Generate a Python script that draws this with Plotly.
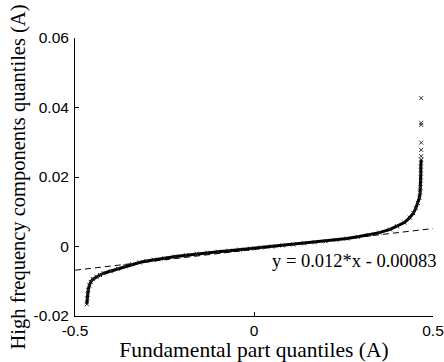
import plotly.graph_objects as go

# Dense part of the Q-Q curve
qx = [-0.467, -0.466, -0.465, -0.463, -0.460, -0.456, -0.450, -0.440, -0.430, -0.420,
      -0.400, -0.380, -0.360, -0.340, -0.320, -0.300, -0.280, -0.250, -0.220, -0.190,
      -0.160, -0.130, -0.100, -0.070, -0.040, -0.010, 0.020, 0.050, 0.080, 0.110,
      0.140, 0.170, 0.200, 0.230, 0.260, 0.290, 0.320, 0.350, 0.380, 0.400,
      0.420, 0.435, 0.445, 0.452, 0.458, 0.462, 0.464, 0.465, 0.466, 0.466,
      0.466, 0.467]
qy = [-0.0166, -0.0150, -0.0138, -0.0125, -0.0112, -0.0102, -0.0094, -0.0087, -0.0082, -0.0077,
      -0.0071, -0.0064, -0.0057, -0.0051, -0.0046, -0.0042, -0.0038, -0.0034, -0.0029, -0.0025,
      -0.0021, -0.0018, -0.0015, -0.0012, -0.0009, -0.0006, -0.0003, 0.0000, 0.0003, 0.0006,
      0.0009, 0.0012, 0.0015, 0.0019, 0.0023, 0.0028, 0.0033, 0.0040, 0.0049, 0.0058,
      0.0069, 0.0083, 0.0096, 0.0110, 0.0125, 0.0140, 0.0155, 0.0170, 0.0190, 0.0210,
      0.0230, 0.0250]
# Sparse upper outliers
ox = [0.467, 0.467, 0.467, 0.467, 0.467, 0.467]
oy = [0.0260, 0.0278, 0.0299, 0.0350, 0.0356, 0.0427]

slope = 0.012
intercept = -0.00083
line_x = [-0.5, 0.5]
line_y = [slope * v + intercept for v in line_x]

x_ticks = [-0.5, 0, 0.5]
x_tick_text = ["-0.5", "0", "0.5"]
y_ticks = [-0.02, 0, 0.02, 0.04, 0.06]
y_tick_text = ["-0.02", "0", "0.02", "0.04", "0.06"]

SERIF = "Liberation Serif"
SANS = "Liberation Sans"

fig = go.Figure()
fig.add_trace(go.Scatter(x=qx, y=qy, mode="lines+markers",
                         line=dict(color="black", width=3),
                         marker=dict(symbol="x-thin-open", size=4, color="#222",
                                     line=dict(width=1, color="#222")),
                         showlegend=False))
fig.add_trace(go.Scatter(x=ox, y=oy, mode="markers",
                         marker=dict(symbol="x-thin-open", size=4, color="#333",
                                     line=dict(width=1, color="#333")),
                         showlegend=False))
fig.add_trace(go.Scatter(x=line_x, y=line_y, mode="lines",
                         line=dict(color="black", width=1, dash="6px,4px"),
                         showlegend=False))

fig.add_annotation(x=0.5, y=-0.0006, xref="x", yref="y", xanchor="right", yanchor="top",
                   text="y = 0.012*x - 0.00083", showarrow=False, xshift=6,
                   font=dict(family=SERIF, size=18.5, color="black"))

fig.update_layout(
    width=444, height=362,
    margin=dict(l=75, r=11, t=38, b=46),
    paper_bgcolor="white", plot_bgcolor="white",
    font=dict(family=SANS, size=15.5, color="black"),
    xaxis=dict(range=[-0.5, 0.5], tickvals=x_ticks, ticktext=x_tick_text,
               automargin=False,
               showgrid=False, zeroline=False, showline=True, linecolor="black", linewidth=1,
               ticks="inside", ticklen=4, tickcolor="black",
               title=dict(text="Fundamental part quantiles (A)",
                          font=dict(family=SERIF, size=21.5), standoff=0)),
    yaxis=dict(range=[-0.02, 0.06], tickvals=y_ticks, ticktext=y_tick_text,
               automargin=False, ticklabelstandoff=2,
               showgrid=False, zeroline=False, showline=True, linecolor="black", linewidth=1,
               ticks="inside", ticklen=4, tickcolor="black",
               title=dict(text="High frequency components quantiles (A)",
                          font=dict(family=SERIF, size=20.5), standoff=2)),
)

fig.write_html("out.html")
